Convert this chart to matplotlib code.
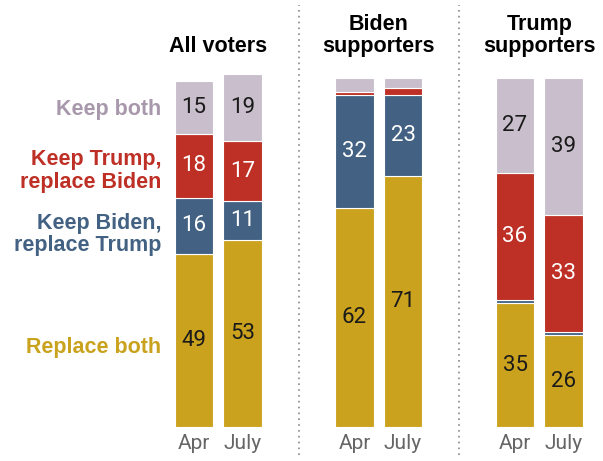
import matplotlib.pyplot as plt
from matplotlib.transforms import blended_transform_factory

# survey results, percent
groups = ['All voters', 'Biden\nsupporters', 'Trump\nsupporters']
months = ['Apr', 'July']
categories = ['Replace both', 'Keep Biden,\nreplace Trump', 'Keep Trump,\nreplace Biden', 'Keep both']
replace_both = [[49, 53], [62, 71], [35, 26]]
keep_biden = [[16, 11], [32, 23], [1, 1]]
keep_trump = [[18, 17], [1, 2], [36, 33]]
keep_both = [[15, 19], [4, 3], [27, 39]]

colors = ['#CBA21E', '#436283', '#BE2F25', '#C9BFCC']
label_colors = ['#C9A21E', '#436283', '#BE2F25', '#A898AB']
text_colors = ['#1a1a1a', 'white', 'white', '#1a1a1a']

series = [replace_both, keep_biden, keep_trump, keep_both]
narrow = ['Liberation Sans Narrow', 'Liberation Sans']

fig = plt.figure(figsize=(6.03, 4.61), dpi=100)
ax = fig.add_axes([0.2819, 0.0738, 0.6965, 0.7657])

group_gap = 3.31
bar_w = 0.79
xs = []
for g in range(len(groups)):
    for j in range(len(months)):
        x = g * group_gap + j
        xs.append(x)
        bottom = 0
        for k, s in enumerate(series):
            v = s[g][j]
            ax.bar(x, v, width=bar_w, bottom=bottom, color=colors[k],
                   edgecolor='white', linewidth=0.8)
            if v >= 10:
                ax.text(x, bottom + v / 2, str(v), ha='center', va='center',
                        fontsize=16, color=text_colors[k], family='Roboto')
            bottom += v

# group titles
for g, name in enumerate(groups):
    ax.text(g * group_gap + 0.5, 104.8, name, ha='center', va='bottom',
            fontsize=15.5, fontweight='bold', linespacing=1.05,
            family=narrow, clip_on=False)

# category labels beside the first bar
bottom = 0
offsets = [-1.9, -2.5, -1.5, -0.65]
for k, s in enumerate(series):
    v = s[0][0]
    ax.text(-0.68, bottom + v / 2 + offsets[k], categories[k], ha='right', va='center',
            fontsize=15.5, fontweight='bold', color=label_colors[k], linespacing=1.1,
            family=narrow, clip_on=False)
    bottom += v

# dotted separators between groups
trans = blended_transform_factory(ax.transData, ax.transAxes)
for g in range(1, len(groups)):
    xm = (g * group_gap + (g - 1) * group_gap + 1) / 2
    ax.plot([xm, xm], [-0.08, 1.195], transform=trans, color='#888888',
            linestyle=(0, (1, 2.5)), linewidth=1.2, clip_on=False)

ax.set_xticks(xs)
ax.set_xticklabels(months * len(groups), fontsize=15, color='#666666', family='Roboto')
ax.tick_params(axis='x', length=0, pad=5)
ax.set_yticks([])
for sp in ax.spines.values():
    sp.set_visible(False)
ax.set_xlim(-0.495, 8.165)
ax.set_ylim(0, 100)

fig.savefig('out.png', dpi=100)
